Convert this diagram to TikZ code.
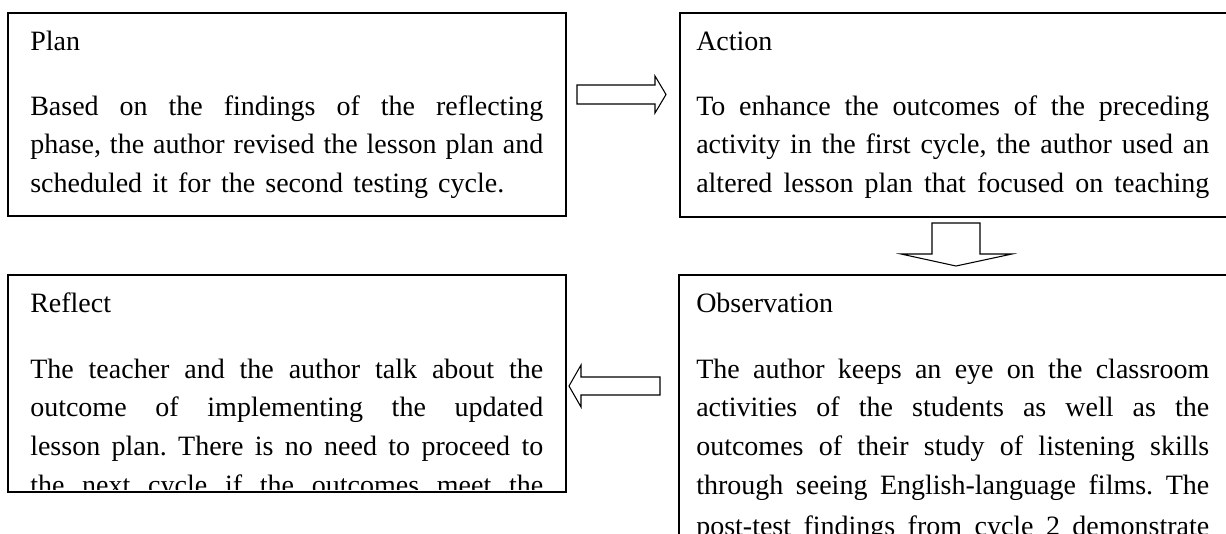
\documentclass[tikz,border=0pt]{standalone}
\usepackage{fontspec}
\setmainfont{Liberation Serif}
\frenchspacing
\newcommand{\jl}[1]{\makebox[384.75pt][s]{#1}}
\tikzset{
  boxline/.style={draw=black, line width=1.2pt, inner sep=0pt, anchor=north west},
  blockarrow/.style={draw=black, line width=0.8pt, fill=white, line join=miter},
  txt/.style={anchor=base west, inner sep=0pt, font=\fontsize{21pt}{29pt}\selectfont},
}
\begin{document}
\begin{tikzpicture}[x=0.75pt, y=-0.75pt]
\useasboundingbox (0,0) rectangle (1226,533);
\clip (0,0) rectangle (1226,533);
\fill[white] (0,0) rectangle (1226,533);

% boxes
\node[boxline, minimum width=418.5pt, minimum height=152.25pt] (plan) at (7,12) {};
\node[boxline, minimum width=418.5pt, minimum height=153pt] (action) at (679,12) {};
\node[boxline, minimum width=418.5pt, minimum height=162.75pt] (reflect) at (7,274) {};
\node[boxline, minimum width=418.5pt, minimum height=225pt] (observation) at (678,274) {};

% Plan text
\node[txt] (plant) at (30,50) {Plan};
\node[txt] (plan1) at (30,115) {\jl{Based on the findings of the reflecting}};
\node[txt] (plan2) at (30,153.7) {\jl{phase, the author revised the lesson plan and}};
\node[txt] (plan3) at (30,192.4) {\makebox[355.5pt][s]{scheduled it for the second testing cycle.}};

% Action text
\node[txt] (actt) at (696,50) {Action};
\node[txt] (act1) at (696,115) {\jl{To enhance the outcomes of the preceding}};
\node[txt] (act2) at (696,153.7) {\jl{activity in the first cycle, the author used an}};
\node[txt] (act3) at (696,192.4) {\jl{altered lesson plan that focused on teaching}};

% Reflect text
\node[txt] (reft) at (30,312) {Reflect};
\node[txt] (ref1) at (30,378) {\jl{The teacher and the author talk about the}};
\node[txt] (ref2) at (30,416.7) {\jl{outcome of implementing the updated}};
\node[txt] (ref3) at (30,455.4) {\jl{lesson plan. There is no need to proceed to}};
\begin{scope}
\clip (8,275) rectangle (564,489.5);
\node[txt] (ref4) at (30,494.1) {\jl{the next cycle if the outcomes meet the}};
\end{scope}

% Observation text
\node[txt] (obst) at (696,312) {Observation};
\node[txt] (obs1) at (696,378) {\jl{The author keeps an eye on the classroom}};
\node[txt] (obs2) at (696,416.7) {\jl{activities of the students as well as the}};
\node[txt] (obs3) at (696,455.4) {\jl{outcomes of their study of listening skills}};
\node[txt] (obs4) at (696,494.1) {\jl{through seeing English-language films. The}};
\node[txt] (obs5) at (696,535) {\jl{post-test findings from cycle 2 demonstrate}};

% block arrows
\draw[blockarrow] (577,85) -- (655,85) -- (655,76) -- (666,94.5) -- (655,113) -- (655,104) -- (577,104) -- cycle;
\draw[blockarrow] (932,223) -- (980,223) -- (980,254) -- (1012,254) -- (956,266) -- (901,254) -- (932,254) -- cycle;
\draw[blockarrow] (660,377) -- (581,377) -- (581,365) -- (569,386) -- (581,407) -- (581,395) -- (660,395) -- cycle;
\end{tikzpicture}
\end{document}
